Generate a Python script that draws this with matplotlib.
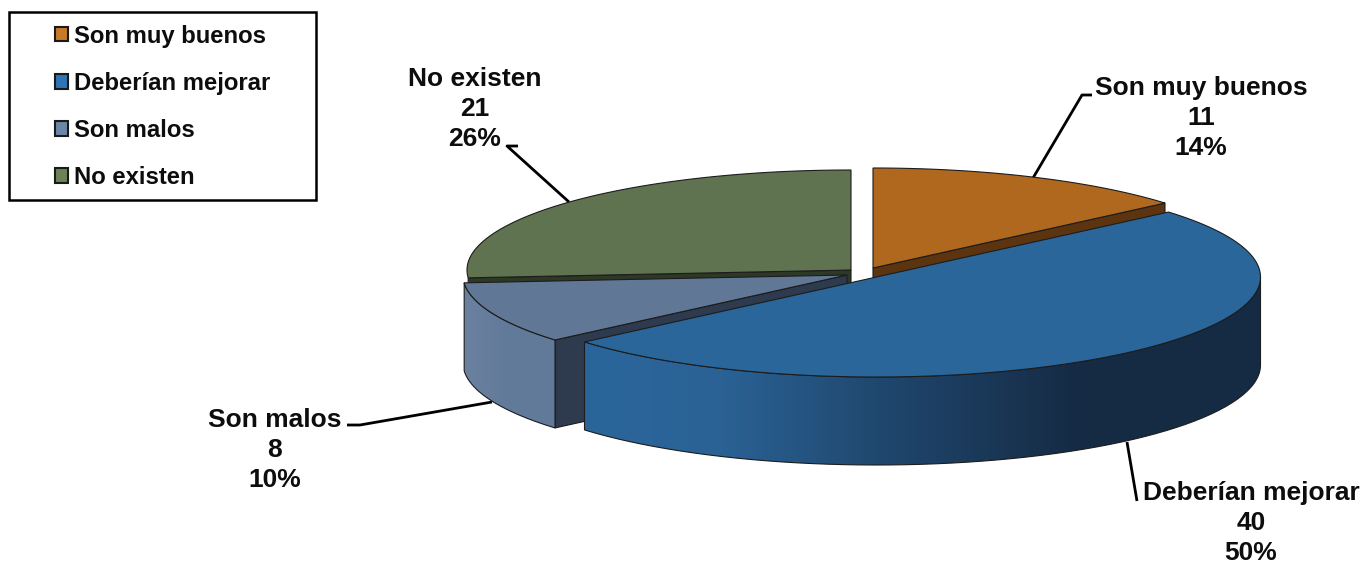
import numpy as np
import matplotlib
matplotlib.use("Agg")
import matplotlib.pyplot as plt
from matplotlib.colors import LinearSegmentedColormap
from matplotlib.patches import Patch, PathPatch, Polygon, Rectangle
from matplotlib.path import Path

plt.rcParams['font.family'] = ['Liberation Sans', 'DejaVu Sans']

# datos del grafico
categorias = ['Son muy buenos', 'Deberían mejorar', 'Son malos', 'No existen']
valores = [11, 40, 8, 21]
porcentajes = ['14%', '50%', '10%', '26%']

colores_top = ['#b0681f', '#2b669b', '#607896', '#5f7350']
colores_pared = ['#5c3510', '#1f4469', '#2e3a4d', '#2e3826']
colores_leyenda = ['#c87a28', '#2f74b5', '#6c86a8', '#6c8259']

# centro de cada porcion en pixeles (la azul esta separada)
centros = [(873, 268), (876.5, 277), (847, 275), (851, 270)]
A, B, PROF = 384, 100, 88
BORDE = '#1c1c1c'


def borde_elipse(cx, cy, t1, t2, n=120):
    # angulos en grados desde las 12 en sentido horario
    t = np.radians(np.linspace(t1, t2, n))
    return np.column_stack([cx + A * np.sin(t), cy - B * np.cos(t)])


def pared_recta(ax, c, t, color, z):
    p = borde_elipse(c[0], c[1], t, t, 1)[0]
    pts = [c, p, (p[0], p[1] + PROF), (c[0], c[1] + PROF)]
    ax.add_patch(Polygon(pts, closed=True, fc=color, ec=BORDE, lw=0.8, zorder=z))


def pared_curva(ax, c, t1, t2, stops, z):
    # cara exterior con degradado horizontal
    arco = borde_elipse(c[0], c[1], t1, t2)
    pts = np.vstack([arco, arco[::-1] + [0, PROF]])
    patch = PathPatch(Path(np.vstack([pts, pts[0]])), fc='none', ec=BORDE, lw=0.8, zorder=z + 0.1)
    ax.add_patch(patch)
    x0, x1 = pts[:, 0].min(), pts[:, 0].max()
    cmap = LinearSegmentedColormap.from_list('g', stops)
    im = ax.imshow(np.linspace(0, 1, 512).reshape(1, -1), cmap=cmap, aspect='auto',
                   extent=(x0, x1, pts[:, 1].max(), pts[:, 1].min()), zorder=z)
    im.set_clip_path(patch)


def tapa(ax, c, t1, t2, color, z):
    pts = np.vstack([[c], borde_elipse(c[0], c[1], t1, t2)])
    ax.add_patch(Polygon(pts, closed=True, fc=color, ec=BORDE, lw=0.8, zorder=z))


fig = plt.figure(figsize=(13.66, 5.65), dpi=100)
ax = fig.add_axes([0, 0, 1, 1])

acum = np.cumsum([0] + valores) / sum(valores) * 360
ang = [(acum[i], acum[i + 1]) for i in range(len(valores))]

# se dibuja de atras hacia adelante: verde, naranja, gris, azul
pared_recta(ax, centros[3], ang[3][0], colores_pared[3], 1)
tapa(ax, centros[3], ang[3][0], ang[3][1], colores_top[3], 2)

pared_recta(ax, centros[0], ang[0][1], colores_pared[0], 3)
tapa(ax, centros[0], ang[0][0], ang[0][1], colores_top[0], 4)

pared_recta(ax, centros[2], ang[2][0], colores_pared[2], 5)
pared_curva(ax, centros[2], ang[2][0], ang[2][1], ['#6a829f', '#627a99', '#637b9a'], 6)
tapa(ax, centros[2], ang[2][0], ang[2][1], colores_top[2], 7)

pared_curva(ax, centros[1], 90, ang[1][1],
            [(0, '#2b669b'), (0.2, '#2a6295'), (0.45, '#1f466c'),
             (0.74, '#152a43'), (1, '#162b44')], 8)
tapa(ax, centros[1], ang[1][0], ang[1][1], colores_top[1], 9)

# etiquetas con su linea guia
pos_etiquetas = [(1201, 118), (1251, 523), (275, 450), (475, 109)]
guias = [
    [(1092, 95), (1082, 95), (1033, 178)],
    [(1137, 501), (1127, 442)],
    [(347, 425), (360, 425), (492, 402)],
    [(518, 146), (507, 146), (569, 202)],
]
for i, cat in enumerate(categorias):
    ax.text(pos_etiquetas[i][0], pos_etiquetas[i][1], f'{cat}\n{valores[i]}\n{porcentajes[i]}',
            ha='center', va='center', fontsize=19, fontweight='bold', color='#0d0d0d',
            linespacing=1.32, zorder=20)
    g = np.array(guias[i])
    ax.plot(g[:, 0], g[:, 1], color='black', lw=2, zorder=0.5, solid_capstyle='butt')

# leyenda
ax.add_patch(Rectangle((9, 12), 307, 188, fc='white', ec='black', lw=1.8, zorder=15))
handles = [Patch(fc=c, ec='#1a1a1a', lw=1.5) for c in colores_leyenda]
leg = ax.legend(handles, categorias, loc='upper left', bbox_to_anchor=(32, 2),
                bbox_transform=ax.transData, frameon=False,
                prop={'weight': 'bold', 'size': 17.2}, handlelength=0.55, handleheight=0.55,
                handletextpad=0.25, labelspacing=1.01, borderpad=0.45)
leg.set_zorder(16)
for t in leg.get_texts():
    t.set_color('#0d0d0d')

ax.set_xlim(0, 1366)
ax.set_ylim(565, 0)
ax.axis('off')
fig.savefig('out.png', dpi=100, facecolor='white')
